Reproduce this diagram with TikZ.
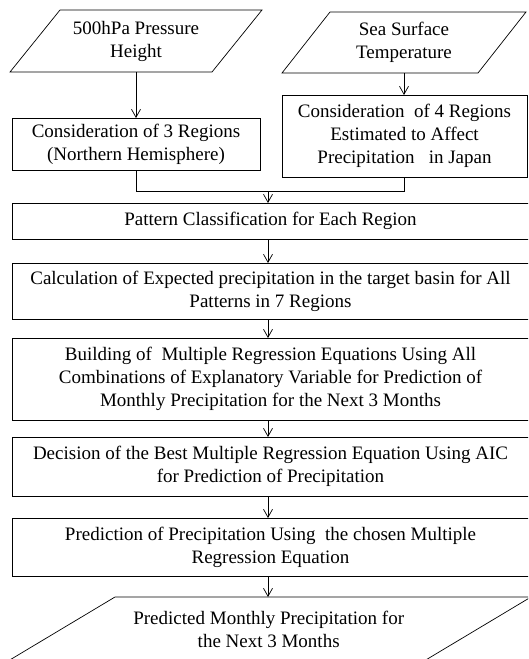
\documentclass[tikz,border=0pt]{standalone}
\usepackage{fontspec}
\setmainfont{Liberation Serif}
\usetikzlibrary{positioning,arrows.meta}
\tikzset{
    flow box/.style={
        rectangle,
        draw=black,
        line width=0.7pt,
        minimum width=517pt,
        inner sep=0pt,
        outer sep=0pt,
        align=center,
        font=\fontsize{19}{23}\selectfont
    },
    side box/.style={flow box, minimum width=#1},
    data box/.style={flow box, draw=none},
    flow line/.style={line width=0.7pt},
    flow arrow/.style={flow line, -{Straight Barb[length=8pt,width=9pt]}}
}

\begin{document}
\begin{tikzpicture}[x=1pt, y=-1pt]
\useasboundingbox (0,0) rectangle (528,659);
\clip (0,0) rectangle (528,659);

% input data (text only, outlines drawn below)
\node[data box, minimum width=202pt, minimum height=62pt] (height) at (136,41) {500hPa Pressure\\Height};
\node[data box, minimum width=196pt, minimum height=61pt] (sst) at (404,42.5) {Sea Surface\\Temperature};

% regions considered for each input
\node[side box=248pt, minimum height=52pt] (reg3) at (136,144) {Consideration of 3 Regions\\(Northern Hemisphere)};
\node[side box=245pt, minimum height=82pt] (reg4) at (404.5,136) {Consideration\ \ of 4 Regions\\Estimated to Affect\\Precipitation\ \ \ in Japan};

% main chain
\node[flow box, minimum height=36pt] (pattern) at (270.5,221) {Pattern Classification for Each Region};
\node[flow box, minimum height=56pt, below=24pt of pattern] (expect) {Calculation of Expected precipitation in the target basin for All\\Patterns in 7 Regions};
\node[flow box, minimum height=82pt, below=19pt of expect] (build) {Building of\ \ Multiple Regression Equations Using All\\Combinations of Explanatory Variable for Prediction of\\Monthly Precipitation for the Next 3 Months};
\node[flow box, minimum height=59pt, below=17pt of build] (decide) {Decision of the Best Multiple Regression Equation Using AIC\\for Prediction of Precipitation};
\node[flow box, minimum height=58pt, below=22pt of decide] (predict) {Prediction of Precipitation Using\ \ the chosen Multiple\\Regression Equation};
\node[data box, minimum width=416pt, minimum height=65pt] (result) at (268.7,629.5) {Predicted Monthly Precipitation for\\the Next 3 Months};

% parallelogram outlines
\draw[flow line] ([xshift=-25pt]height.south west) -- ([xshift=25pt]height.north west)
    -- ([xshift=25pt]height.north east) -- ([xshift=-25pt]height.south east) -- cycle;
\draw[flow line] ([xshift=-24pt]sst.south west) -- ([xshift=24pt]sst.north west)
    -- ([xshift=24pt]sst.north east) -- ([xshift=-24pt]sst.south east) -- cycle;
\draw[flow line] ([xshift=-54.3pt]result.south west) -- ([xshift=54.3pt]result.north west)
    -- ([xshift=54.3pt]result.north east) -- ([xshift=-54.3pt]result.south east) -- cycle;

% connectors
\coordinate (join) at (268,191);
\draw[flow arrow] (height.south) -- (height.south |- reg3.north);
\draw[flow arrow] (sst.south) -- (sst.south |- reg4.north);
\draw[flow line] (reg3.south) |- (reg4.south |- join) -- (reg4.south);
\draw[flow arrow] (join) -- (join |- pattern.north);
\foreach \a/\b in {pattern/expect, expect/build, build/decide, decide/predict, predict/result}
    \draw[flow arrow] (join |- \a.south) -- (join |- \b.north);

\end{tikzpicture}
\end{document}
